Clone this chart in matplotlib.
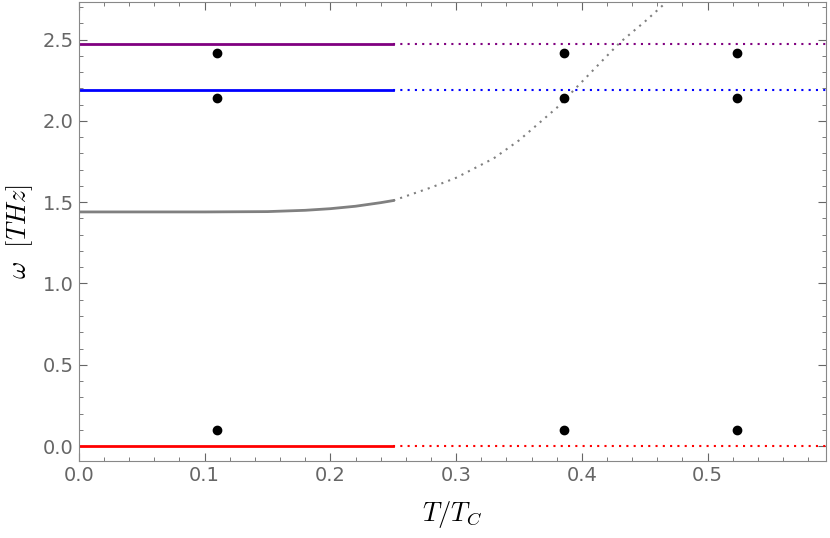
import matplotlib.pyplot as plt
import numpy as np

plt.rcParams['mathtext.fontset'] = 'cm'

# mode lines (solid part up to T/Tc = 0.25, dotted continuation after)
t_solid = [0.0, 0.25]
t_dot = [0.25, 0.6]
red_w = 0.0
blue_w = 2.19
purple_w = 2.475

gray_t_solid = [0.0, 0.1, 0.15, 0.18, 0.2, 0.22, 0.24, 0.25]
gray_w_solid = [1.44, 1.44, 1.442, 1.45, 1.46, 1.475, 1.497, 1.51]
gray_t_dot = [0.25, 0.28, 0.3, 0.33, 0.35, 0.38, 0.4, 0.42, 0.43, 0.45, 0.47]
gray_w_dot = [1.51, 1.59, 1.65, 1.77, 1.88, 2.08, 2.24, 2.40, 2.48, 2.61, 2.75]

# measured points
pts_t = [0.11, 0.386, 0.523]
pts_w = [[0.1, 2.14, 2.42]] * 3

fig, ax = plt.subplots(figsize=(8.3, 5.38), dpi=100)
fig.subplots_adjust(left=0.095, right=0.995, bottom=0.143, top=0.996)

for w, c in [(red_w, 'red'), (blue_w, 'blue'), (purple_w, 'purple')]:
    ax.plot(t_solid, [w, w], color=c, lw=2)
    ax.plot(t_dot, [w, w], color=c, lw=1.5, ls=(0, (1, 2.5)))
ax.plot(gray_t_solid, gray_w_solid, color='gray', lw=2)
ax.plot(gray_t_dot, gray_w_dot, color='gray', lw=1.5, ls=(0, (1, 2.5)))

for t, ws in zip(pts_t, pts_w):
    ax.scatter([t] * len(ws), ws, color='black', s=36, zorder=5)

ax.set_xlim(0, 0.594)
ax.set_ylim(-0.092, 2.73)
ax.set_xticks([0.0, 0.1, 0.2, 0.3, 0.4, 0.5])
ax.set_yticks([0.0, 0.5, 1.0, 1.5, 2.0, 2.5])
ax.xaxis.set_minor_locator(plt.MultipleLocator(0.02))
ax.yaxis.set_minor_locator(plt.MultipleLocator(0.1))
ax.tick_params(which='both', direction='in', colors='#666666', labelsize=14,
               top=True, right=True)
ax.tick_params(which='major', length=6)
ax.tick_params(which='minor', length=3)
for s in ax.spines.values():
    s.set_color('#888888')
ax.set_xlabel(r'$T/T_C$', fontsize=19, labelpad=10)
ax.set_ylabel(r'$\omega\ \ [THz]$', fontsize=19, labelpad=6)

fig.savefig('out.png')
